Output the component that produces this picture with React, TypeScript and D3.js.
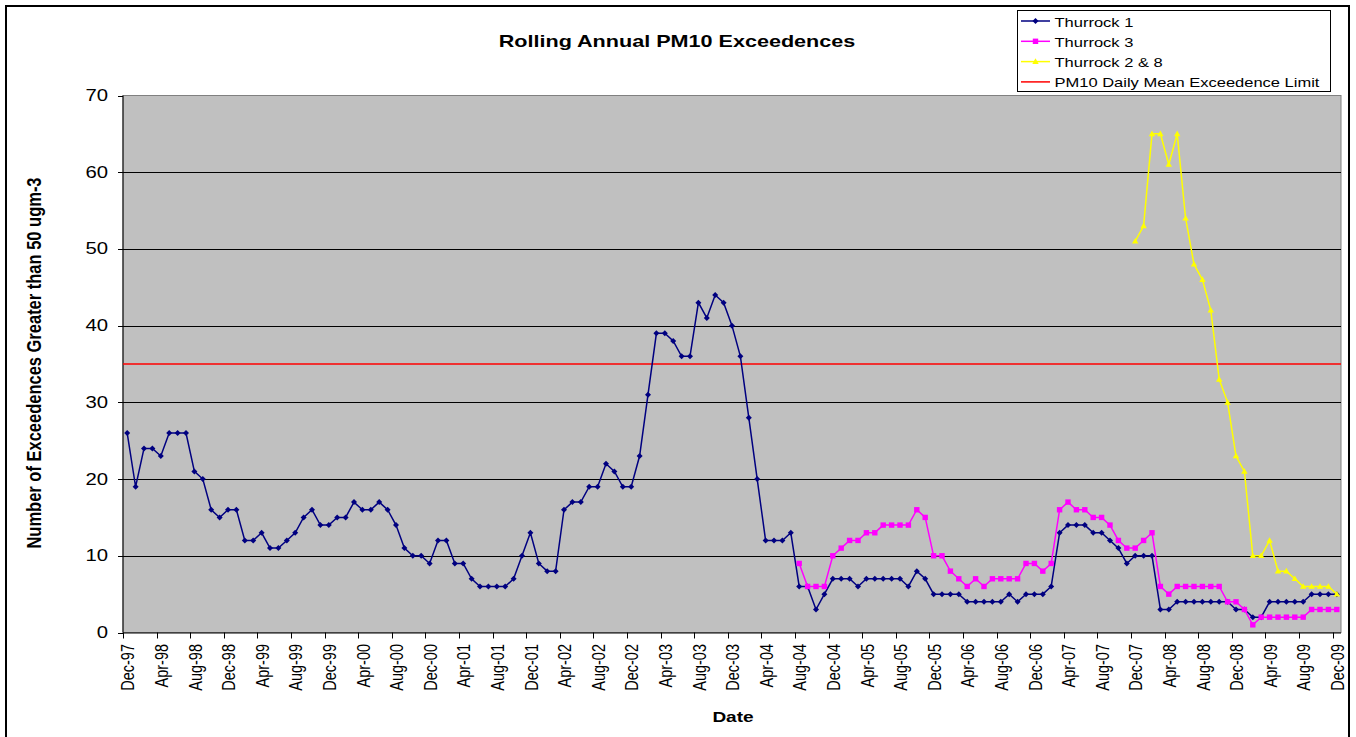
import React from 'react'
import * as d3 from 'd3'

// monthly categories Dec-97 .. Dec-09
const months = d3.timeMonth.range(new Date(1997, 11, 1), new Date(2010, 0, 1))
const fmt = d3.timeFormat('%b-%y')
const categories = months.map(m => fmt(m))

const thurrock1 = [
  26, 19, 24, 24, 23, 26, 26, 26, 21, 20, 16, 15, 16, 16, 12, 12, 13, 11, 11, 12,
  13, 15, 16, 14, 14, 15, 15, 17, 16, 16, 17, 16, 14, 11, 10, 10, 9, 12, 12, 9,
  9, 7, 6, 6, 6, 6, 7, 10, 13, 9, 8, 8, 16, 17, 17, 19, 19, 22, 21, 19,
  19, 23, 31, 39, 39, 38, 36, 36, 43, 41, 44, 43, 40, 36, 28, 20, 12, 12, 12, 13,
  6, 6, 3, 5, 7, 7, 7, 6, 7, 7, 7, 7, 7, 6, 8, 7, 5, 5, 5, 5,
  4, 4, 4, 4, 4, 5, 4, 5, 5, 5, 6, 13, 14, 14, 14, 13, 13, 12, 11, 9,
  10, 10, 10, 3, 3, 4, 4, 4, 4, 4, 4, 4, 3, 3, 2, 2, 4, 4, 4, 4,
  4, 5, 5, 5, 5,
]

// Thurrock 3 starts Aug-04 (index 80)
const thurrock3Start = 80
const thurrock3 = [
  9, 6, 6, 6, 10, 11, 12, 12, 13, 13, 14, 14, 14, 14, 16, 15, 10, 10, 8, 7,
  6, 7, 6, 7, 7, 7, 7, 9, 9, 8, 9, 16, 17, 16, 16, 15, 15, 14, 12, 11,
  11, 12, 13, 6, 5, 6, 6, 6, 6, 6, 6, 4, 4, 3, 1, 2, 2, 2, 2, 2,
  2, 3, 3, 3, 3,
]

// Thurrock 2 & 8 starts Dec-07 (index 120)
const thurrock28Start = 120
const thurrock28 = [
  51, 53, 65, 65, 61, 65, 54, 48, 46, 42, 33, 30, 23, 21, 10, 10, 12, 8, 8, 7,
  6, 6, 6, 6, 5,
]

const limitValue = 35
const yTicks = [0, 10, 20, 30, 40, 50, 60, 70]

const seriesNames = ['Thurrock 1', 'Thurrock 3', 'Thurrock 2 & 8', 'PM10 Daily Mean Exceedence Limit']

const FONT = '"Liberation Sans", Arial, sans-serif'
const SX = 1.27 // the original picture is stretched sideways

const pad = (start: number, vals: number[]) =>
  categories.map((_, i) => (i >= start && i - start < vals.length ? vals[i - start] : null))

const W = 1356
const H = 737
const left = 123
const right = 1341
const top = 95.5
const bottom = 632.5

function Marker({ kind, x, y, color }: { kind: string; x: number; y: number; color: string }) {
  if (kind === 'diamond')
    return <path d={`M${x},${y - 3}L${x + 3},${y}L${x},${y + 3}L${x - 3},${y}Z`} fill={color} />
  if (kind === 'square') return <rect x={x - 2.7} y={y - 2.7} width={5.4} height={5.4} fill={color} />
  return <path d={`M${x},${y - 3.3}L${x + 3.2},${y + 2.3}L${x - 3.2},${y + 2.3}Z`} fill={color} />
}

function SText(props: any) {
  const { x, y, children, ...rest } = props
  return (
    <text transform={`translate(${x},${y}) scale(${SX},1)`} fontFamily={FONT} {...rest}>
      {children}
    </text>
  )
}

export default function App() {
  const x = d3.scaleBand<string>().domain(categories).range([left, right]).padding(0)
  const y = d3.scaleLinear().domain([0, 70]).range([bottom, top])
  const cx = (i: number) => (x(categories[i]) as number) + x.bandwidth() / 2

  const series = [
    { name: seriesNames[0], values: pad(0, thurrock1), color: '#000080', marker: 'diamond' },
    { name: seriesNames[1], values: pad(thurrock3Start, thurrock3), color: '#FF00FF', marker: 'square' },
    { name: seriesNames[2], values: pad(thurrock28Start, thurrock28), color: '#FFFF00', marker: 'triangle' },
  ]

  const line = d3
    .line<number | null>()
    .defined(d => d != null)
    .x((_, i) => cx(i))
    .y(d => y(d as number))

  const labelIdx = categories.map((_, i) => i).filter(i => i % 4 === 0)
  const tickIdx = d3.range(0, categories.length + 1, 4)

  return (
    <svg width={W} height={H} style={{ position: 'absolute', left: 0, top: 0, background: '#fff' }}>
      <rect x={6} y={6} width={1343} height={745} fill="#fff" stroke="#000" strokeWidth={2} />

      {/* plot area */}
      <rect x={left} y={top} width={right - left} height={bottom - top} fill="#C0C0C0" stroke="#808080" strokeWidth={1} />
      {yTicks.slice(1, -1).map(t => (
        <line key={t} x1={left} x2={right} y1={Math.round(y(t)) + 0.5} y2={Math.round(y(t)) + 0.5} stroke="#000" strokeWidth={1} />
      ))}

      {/* y axis */}
      <line x1={left} x2={left} y1={top} y2={bottom} stroke="#000" />
      {yTicks.map(t => (
        <g key={t}>
          <line x1={left - 5} x2={left} y1={Math.round(y(t)) + 0.5} y2={Math.round(y(t)) + 0.5} stroke="#000" />
          <SText x={108} y={y(t) + 5.5} fontSize={16} textAnchor="end" fill="#000">
            {t}
          </SText>
        </g>
      ))}

      {/* x axis */}
      <line x1={left} x2={right} y1={bottom + 0.5} y2={bottom + 0.5} stroke="#000" />
      {tickIdx.map(i => {
        const px = Math.round(left + i * x.bandwidth()) + 0.5
        return <line key={i} x1={px} x2={px} y1={bottom} y2={bottom + 6} stroke="#000" />
      })}
      {labelIdx.map(i => (
        <text
          key={i}
          transform={`translate(${cx(i) + 1},${644}) scale(${SX},1) rotate(-90)`}
          textAnchor="end"
          dominantBaseline="central"
          fontFamily={FONT}
          fontSize={14.5}
          fill="#000"
        >
          {categories[i]}
        </text>
      ))}

      {/* limit line */}
      <line x1={left} x2={right} y1={y(limitValue)} y2={y(limitValue)} stroke="#FF0000" strokeWidth={1.5} />

      {/* series */}
      {series.map(s => (
        <g key={s.name}>
          <path d={line(s.values) || ''} fill="none" stroke={s.color} strokeWidth={1.5} />
          {s.values.map((v, i) =>
            v == null ? null : <Marker key={i} kind={s.marker} x={cx(i)} y={y(v)} color={s.color} />
          )}
        </g>
      ))}

      {/* titles */}
      <SText x={677} y={47} fontSize={17} fontWeight="bold" textAnchor="middle" fill="#000">
        Rolling Annual PM10 Exceedences
      </SText>
      <text
        transform={`translate(${41},${363}) scale(${SX},1) rotate(-90)`}
        textAnchor="middle"
        fontFamily={FONT}
        fontSize={16.5}
        fontWeight="bold"
        fill="#000"
      >
        Number of Exceedences Greater than 50 ugm-3
      </text>
      <SText x={733} y={722} fontSize={15} fontWeight="bold" textAnchor="middle" fill="#000">
        Date
      </SText>

      {/* legend */}
      <rect x={1017.5} y={10.5} width={313} height={81} fill="#fff" stroke="#000" strokeWidth={1} />
      {seriesNames.map((n, i) => {
        const ly = 21 + i * 20.3
        const s = series[i]
        const color = s ? s.color : '#FF0000'
        return (
          <g key={n}>
            <line x1={1021} x2={1050} y1={ly} y2={ly} stroke={color} strokeWidth={1.5} />
            {s && <Marker kind={s.marker} x={1035.5} y={ly} color={color} />}
            <SText x={1054.5} y={ly + 5.5} fontSize={13} fill="#000">
              {n}
            </SText>
          </g>
        )
      })}
    </svg>
  )
}
